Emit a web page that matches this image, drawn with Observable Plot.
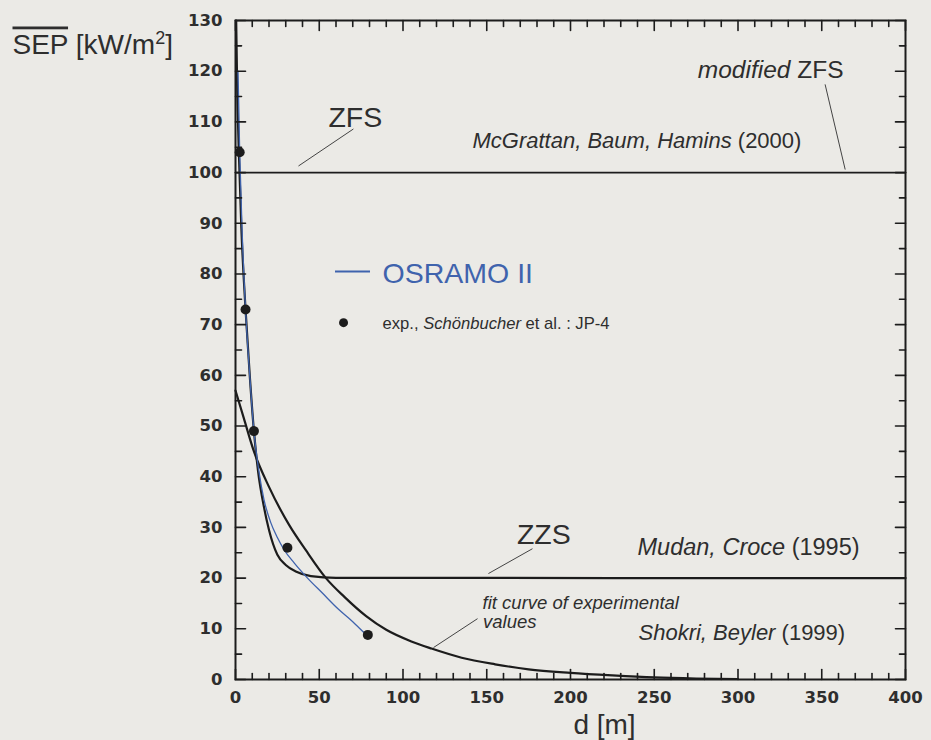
<!DOCTYPE html>
<html><head><meta charset="utf-8">
<script src="https://cdn.jsdelivr.net/npm/d3@7"></script>
<script src="https://cdn.jsdelivr.net/npm/@observablehq/plot@0.6"></script>
<style>
html,body{margin:0;padding:0;background:#ebeae6;}
#chart{width:931px;height:740px;}
</style></head><body><div id="chart"></div>
<script>
// ---- data ----
const expD   = [2.5, 6, 11, 31, 79];
const expSEP = [104, 73, 49, 26, 8.8];

const osramoD   = [1.5, 2.5, 4, 6, 8.5, 11, 14, 17, 21, 25, 29, 35, 43, 52, 61, 70, 76.5];
const osramoSEP = [120, 104, 88, 73, 60, 49, 41, 35.5, 31, 28, 25.6, 23, 20, 17, 14, 11.4, 9.3];

const zzsD   = [0.4, 1, 2, 3.5, 6, 8.5, 11, 13.5, 17, 20, 25, 30, 36, 45, 60, 400];
const zzsSEP = [130, 117, 104, 89, 73, 60, 49, 41, 34, 29.5, 24.6, 22.6, 21.3, 20.4, 20.05, 20];

const fitD   = [0, 5, 11, 20, 32, 42, 54, 65, 78, 90, 105, 117, 135, 155, 175, 200, 225, 250, 275, 300];
const fitSEP = [57, 51.5, 45, 38, 30.5, 25.5, 20, 16.3, 12.5, 9.8, 7.5, 6.1, 4.3, 3, 2, 1.3, 0.8, 0.4, 0.2, 0.1];

const zfsD   = [0, 400];
const zfsSEP = [100, 100];

const xMajor = [0, 50, 100, 150, 200, 250, 300, 350, 400];
const xMinor = d3.range(0, 401, 10).filter(v => v % 50 !== 0);
const yMajor = [0, 10, 20, 30, 40, 50, 60, 70, 80, 90, 100, 110, 120, 130];
const yMinor = d3.range(5, 130, 10);

const yTitle = [["SEP", "over"], [" [kW/m", ""], ["2", "sup"], ["]", "unsup"]];
const xTitle = "d [m]";
const lblZFS = "ZFS";
const lblModZFS = [["modified", "i"], [" ZFS", ""]];
const lblMcG = [["McGrattan, Baum, Hamins", "i"], [" (2000)", ""]];
const lblOsramo = "OSRAMO II";
const lblExp = [["exp., ", ""], ["Schönbucher", "i"], [" et al. : JP-4", ""]];
const lblZZS = "ZZS";
const lblMudan = [["Mudan, Croce", "i"], [" (1995)", ""]];
const lblFit1 = "fit curve of experimental";
const lblFit2 = "values";
const lblShokri = [["Shokri, Beyler", "i"], [" (1999)", ""]];

// ---- tables ----
const tbl = (xs, ys) => xs.map((x, i) => ({d: x, v: ys[i]}));
const exp = tbl(expD, expSEP);
const osramo = tbl(osramoD, osramoSEP);
const zzs = tbl(zzsD, zzsSEP);
const fit = tbl(fitD, fitSEP);
const zfs = tbl(zfsD, zfsSEP);

const INK = "#1c1c1c";
const TXT = "#2e2e2e";
const BLUE = "#3f63ad";
const FONT = "'Liberation Sans', Arial, sans-serif";

const tickShape = {draw(context, l) { context.moveTo(0, 0); context.lineTo(0, -l); }};
const ticks = (vals, axis, pos, rot, len) =>
  Plot.vector(vals, {
    x: axis === "x" ? d => d : () => pos,
    y: axis === "x" ? () => pos : d => d,
    rotate: rot, length: len, anchor: "start", shape: tickShape,
    stroke: INK, strokeWidth: 1.6
  });

const rich = [];
function richText(parts, opts) {
  const cls = "rt" + rich.length;
  rich.push({cls, parts});
  return Plot.text([parts.map(p => p[0]).join("")], {...opts, text: d => d, className: cls});
}
const label = (txt, x, y, size, extra = {}) =>
  Plot.text([txt], {x: () => x, y: () => y, text: d => d, fontSize: size, textAnchor: "start",
    lineAnchor: "bottom", fill: TXT, fontFamily: FONT, ...extra});

const plot = Plot.plot({
  width: 931, height: 740,
  marginLeft: 235, marginRight: 26, marginTop: 20, marginBottom: 61,
  x: {domain: [0, 400]},
  y: {domain: [0, 130]},
  style: {background: "transparent", fontFamily: FONT, color: TXT, overflow: "visible"},
  marks: [
    // data curves
    Plot.line(zfs, {x: "d", y: "v", stroke: INK, strokeWidth: 1.8}),
    Plot.line(fit, {x: "d", y: "v", stroke: INK, strokeWidth: 2.2, curve: "monotone-x"}),
    Plot.line(zzs, {x: "d", y: "v", stroke: INK, strokeWidth: 2.2, curve: "monotone-x"}),
    Plot.line(osramo, {x: "d", y: "v", stroke: BLUE, strokeWidth: 1.3, curve: "monotone-x"}),
    Plot.dot(exp, {x: "d", y: "v", r: 5, fill: INK, stroke: "none"}),

    // frame and axes
    Plot.frame({stroke: INK, strokeWidth: 2}),
    Plot.axisX(xMajor, {tickSize: 0, tickPadding: 12, fontSize: 16.5, fontWeight: "bold",
      fontFamily: "'DejaVu Sans', sans-serif", label: null, fill: TXT, tickFormat: d => d}),
    Plot.axisY(yMajor, {tickSize: 0, tickPadding: 13, fontSize: 16.5, fontWeight: "bold",
      fontFamily: "'DejaVu Sans', sans-serif", label: null, fill: TXT, tickFormat: d => d}),
    ticks(xMajor, "x", 0, 0, 10), ticks(xMinor, "x", 0, 0, 6),
    ticks(xMajor, "x", 130, 180, 10), ticks(xMinor, "x", 130, 180, 6),
    ticks(yMajor, "y", 0, 90, 10), ticks(yMinor, "y", 0, 90, 6),
    ticks(yMajor, "y", 400, -90, 10), ticks(yMinor, "y", 400, -90, 6),

    // axis titles
    richText(yTitle, {frameAnchor: "top-left", dx: -223, dy: 33, textAnchor: "start", lineAnchor: "bottom",
      fontSize: 28, fill: TXT, fontFamily: FONT}),
    Plot.text([xTitle], {frameAnchor: "bottom", dx: 34, dy: 54, text: d => d, lineAnchor: "bottom",
      fontSize: 28, fill: TXT, fontFamily: FONT}),

    // annotations
    label(lblZFS, 55.5, 109, 28.5),
    Plot.link([0], {x1: () => 37.6, y1: () => 101.3, x2: () => 70.4, y2: () => 108.6, stroke: "#444", strokeWidth: 1}),
    richText(lblModZFS, {x: () => 363, y: () => 118.7, textAnchor: "end", lineAnchor: "bottom", fontSize: 24.5, fill: TXT, fontFamily: FONT}),
    Plot.link([0], {x1: () => 352, y1: () => 117.4, x2: () => 364, y2: () => 100.6, stroke: "#444", strokeWidth: 1}),
    richText(lblMcG, {x: () => 141.5, y: () => 104.9, textAnchor: "start", lineAnchor: "bottom", fontSize: 22, fill: TXT, fontFamily: FONT}),

    Plot.ruleY([80.5], {x1: () => 59.7, x2: () => 80.6, stroke: BLUE, strokeWidth: 2}),
    label(lblOsramo, 87.8, 78.3, 28.5, {fill: BLUE}),
    Plot.dot([0], {x: () => 64.5, y: () => 70.4, r: 4.5, fill: INK, stroke: "none"}),
    richText(lblExp, {x: () => 87.8, y: () => 69.2, textAnchor: "start", lineAnchor: "bottom", fontSize: 16.6, fill: TXT, fontFamily: FONT}),

    label(lblZZS, 168, 26.8, 28.5),
    Plot.link([0], {x1: () => 151, y1: () => 20.9, x2: () => 177.3, y2: () => 25.8, stroke: "#444", strokeWidth: 1}),
    richText(lblMudan, {x: () => 240, y: () => 24.5, textAnchor: "start", lineAnchor: "bottom", fontSize: 23.5, fill: TXT, fontFamily: FONT}),

    label(lblFit1, 147.5, 14.0, 18.5, {fontStyle: "italic"}),
    label(lblFit2, 147.8, 10.1, 18.5, {fontStyle: "italic"}),
    Plot.link([0], {x1: () => 118.2, y1: () => 6.3, x2: () => 144.5, y2: () => 12.0, stroke: "#444", strokeWidth: 1}),
    richText(lblShokri, {x: () => 240.6, y: () => 7.7, textAnchor: "start", lineAnchor: "bottom", fontSize: 22, fill: TXT, fontFamily: FONT})
  ]
});

// mixed-style text runs
for (const {cls, parts} of rich) {
  d3.select(plot).selectAll(`g.${cls} text`).each(function() {
    const t = d3.select(this);
    t.text(null);
    for (const [s, style] of parts) {
      const ts = t.append("tspan").text(s);
      if (style === "i") ts.attr("font-style", "italic");
      if (style === "over") ts.style("text-decoration", "overline");
      if (style === "sup") ts.attr("font-size", "18").attr("dy", "-10");
      if (style === "unsup") ts.attr("dy", "10");
    }
  });
}
document.getElementById("chart").appendChild(plot);
</script>
</body></html>
